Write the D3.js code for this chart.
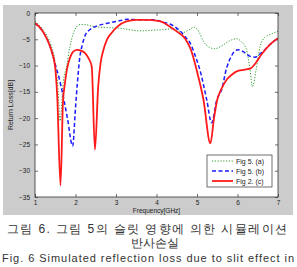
<!DOCTYPE html>
<html>
<head>
<meta charset="utf-8">
<script src="https://cdn.jsdelivr.net/npm/d3@7"></script>
<style>
  body { margin: 0; background: #fff; }
  text { font-family: "Liberation Sans", Arial, sans-serif; }
</style>
</head>
<body>
<svg id="chart" width="297" height="267"></svg>
<script>
// Fig 5. (a) - green dotted
let freqA = [1.0, 1.1, 1.2, 1.3, 1.4, 1.5, 1.56, 1.62, 1.7, 1.78, 1.86, 1.95, 2.03, 2.11, 2.23, 2.4, 2.6, 3.1, 3.59, 3.84, 4.1, 4.41, 4.66, 4.8, 4.93, 5.05, 5.16, 5.3, 5.44, 5.6, 5.8, 5.98, 6.1, 6.21, 6.31, 6.37, 6.46, 6.56, 6.68, 6.8, 7.0];
let lossA = [-1.6, -2.3, -3.2, -4.4, -6.2, -9.5, -13.5, -20.5, -13.0, -10.1, -6.5, -3.8, -2.6, -2.2, -2.2, -2.5, -2.7, -2.9, -3.4, -3.3, -3.2, -3.0, -3.7, -3.2, -2.7, -3.6, -5.4, -6.5, -6.8, -6.3, -5.3, -4.9, -5.5, -6.7, -10.8, -14.0, -10.8, -6.3, -4.6, -4.1, -3.5];

// Fig 5. (b) - blue dashed
let freqB = [1.0, 1.1, 1.2, 1.3, 1.4, 1.5, 1.6, 1.7, 1.8, 1.93, 2.0, 2.05, 2.11, 2.17, 2.23, 2.35, 2.52, 2.75, 3.02, 3.3, 3.6, 3.9, 4.15, 4.33, 4.55, 4.74, 4.83, 4.95, 5.07, 5.24, 5.36, 5.49, 5.61, 5.73, 5.85, 5.94, 6.02, 6.15, 6.3, 6.43, 6.6, 6.8, 7.0];
let lossB = [-2.0, -2.6, -3.6, -5.0, -7.0, -9.8, -12.5, -16.0, -20.0, -25.3, -18.0, -13.0, -8.2, -6.0, -4.4, -3.2, -2.5, -2.0, -1.6, -1.2, -1.3, -1.3, -1.7, -2.1, -3.2, -4.8, -5.7, -8.0, -10.8, -16.5, -20.9, -16.5, -14.5, -10.5, -8.2, -7.2, -7.0, -7.4, -8.2, -8.4, -7.5, -6.0, -4.8];

// Fig 2. (c) - red solid
let freqC = [1.0, 1.1, 1.2, 1.3, 1.4, 1.5, 1.55, 1.63, 1.69, 1.74, 1.8, 1.86, 1.95, 2.04, 2.15, 2.23, 2.32, 2.4, 2.48, 2.56, 2.62, 2.69, 2.78, 2.89, 3.05, 3.26, 3.5, 3.8, 4.1, 4.33, 4.5, 4.7, 4.85, 4.99, 5.16, 5.33, 5.42, 5.5, 5.6, 5.75, 5.85, 5.98, 6.15, 6.31, 6.45, 6.6, 6.8, 7.0];
let lossC = [-1.9, -2.6, -3.6, -5.0, -7.0, -10.5, -16.0, -32.8, -17.0, -13.3, -10.3, -8.6, -7.3, -7.0, -7.2, -7.6, -8.6, -10.1, -26.0, -14.0, -9.5, -7.0, -5.0, -3.8, -2.5, -1.6, -1.3, -1.3, -1.6, -2.6, -3.5, -4.8, -7.0, -10.8, -16.5, -24.8, -20.0, -16.5, -14.5, -12.5, -11.8, -11.1, -10.8, -10.6, -9.5, -7.8, -6.0, -4.8];

let xTicks = [1, 2, 3, 4, 5, 6, 7];
let yTicks = [0, -5, -10, -15, -20, -25, -30, -35];

let seriesNames = ["Fig 5. (a)", "Fig 5. (b)", "Fig 2. (c)"];
let seriesColors = ["#2f9e2f", "#1a1aff", "#ff1a1a"];
let seriesDash = ["1.2,1.6", "4,2.5", null];
let seriesWidth = [1, 1.5, 1.8];

let captionKo1 = "그림 6. 그림 5의 슬릿 영향에 의한 시뮬레이션";
let captionKo2 = "반사손실";
let captionEn = "Fig. 6 Simulated reflection loss due to slit effect in";

let svg = d3.select("#chart");

let margin = { left: 35, right: 278, top: 13, bottom: 197 };

// matlab style grey figure background
svg.append("rect")
    .attr("x", 3).attr("y", 5)
    .attr("width", 290).attr("height", 210)
    .attr("fill", "#cccccc");

svg.append("rect")
    .attr("x", margin.left).attr("y", margin.top)
    .attr("width", margin.right - margin.left)
    .attr("height", margin.bottom - margin.top)
    .attr("fill", "#fff");

let x = d3.scaleLinear().domain([1, 7]).range([margin.left, margin.right]);
let y = d3.scaleLinear().domain([-35, 0]).range([margin.bottom, margin.top]);

// axes, ticks pointing inward
let axisStyle = function (g) {
    g.select(".domain").remove();
    g.selectAll(".tick line").attr("stroke", "#333").attr("stroke-width", 0.7);
    g.selectAll(".tick text").attr("font-size", 6.5).attr("fill", "#222");
};

svg.append("g")
    .attr("transform", "translate(0," + margin.bottom + ")")
    .call(d3.axisBottom(x).tickValues(xTicks).tickSize(-3).tickPadding(3).tickFormat(d3.format("d")))
    .call(axisStyle);

svg.append("g")
    .attr("transform", "translate(0," + margin.top + ")")
    .call(d3.axisTop(x).tickValues(xTicks).tickSize(-3).tickFormat(""))
    .call(axisStyle);

svg.append("g")
    .attr("transform", "translate(" + margin.left + ",0)")
    .call(d3.axisLeft(y).tickValues(yTicks).tickSize(-3).tickPadding(5).tickFormat(d3.format("d")))
    .call(axisStyle);

svg.append("g")
    .attr("transform", "translate(" + margin.right + ",0)")
    .call(d3.axisRight(y).tickValues(yTicks).tickSize(-3).tickFormat(""))
    .call(axisStyle);

let line = d3.line()
    .x(function (d) { return x(d[0]); })
    .y(function (d) { return y(d[1]); })
    .curve(d3.curveMonotoneX);

let allSeries = [
    d3.zip(freqA, lossA),
    d3.zip(freqB, lossB),
    d3.zip(freqC, lossC)
];

// clip so nothing leaves the plot box
svg.append("clipPath").attr("id", "plotClip")
    .append("rect")
    .attr("x", margin.left).attr("y", margin.top)
    .attr("width", margin.right - margin.left)
    .attr("height", margin.bottom - margin.top);

svg.append("g").attr("clip-path", "url(#plotClip)")
    .selectAll("path")
    .data(allSeries).enter()
    .append("path")
    .attr("fill", "none")
    .attr("stroke", function (d, i) { return seriesColors[i]; })
    .attr("stroke-width", function (d, i) { return seriesWidth[i]; })
    .attr("stroke-dasharray", function (d, i) { return seriesDash[i]; })
    .attr("d", line);

// plot box
svg.append("rect")
    .attr("x", margin.left).attr("y", margin.top)
    .attr("width", margin.right - margin.left)
    .attr("height", margin.bottom - margin.top)
    .attr("fill", "none")
    .attr("stroke", "#333")
    .attr("stroke-width", 0.8);

// legend
let legend = svg.append("g").attr("transform", "translate(207,155)");
legend.append("rect")
    .attr("width", 65).attr("height", 32)
    .attr("fill", "#fff")
    .attr("stroke", "#333")
    .attr("stroke-width", 0.7);

seriesNames.forEach(function (name, i) {
    let ly = 6 + i * 10;
    legend.append("line")
        .attr("x1", 5).attr("x2", 26)
        .attr("y1", ly).attr("y2", ly)
        .attr("stroke", seriesColors[i])
        .attr("stroke-width", seriesWidth[i])
        .attr("stroke-dasharray", seriesDash[i]);
    legend.append("text")
        .attr("x", 29).attr("y", ly + 2.5)
        .attr("font-size", 7)
        .attr("fill", "#222")
        .text(name);
});

// axis labels
svg.append("text")
    .attr("transform", "translate(13," + (margin.top + margin.bottom) / 2 + ") rotate(-90)")
    .attr("text-anchor", "middle")
    .attr("font-size", 7)
    .attr("fill", "#222")
    .text("Return Loss[dB]");

svg.append("text")
    .attr("x", (margin.left + margin.right) / 2)
    .attr("y", 213)
    .attr("text-anchor", "middle")
    .attr("font-size", 6.5)
    .attr("fill", "#222")
    .text("Frequency[GHz]");

// caption
svg.append("text")
    .attr("x", 7).attr("y", 233)
    .attr("font-family", "'Noto Sans CJK KR', sans-serif")
    .attr("font-size", 12)
    .attr("fill", "#333")
    .attr("textLength", 280)
    .attr("lengthAdjust", "spacing")
    .text(captionKo1);

svg.append("text")
    .attr("x", 155).attr("y", 247)
    .attr("text-anchor", "middle")
    .attr("font-family", "'Noto Sans CJK KR', sans-serif")
    .attr("font-size", 12)
    .attr("fill", "#333")
    .text(captionKo2);

svg.append("text")
    .attr("x", 2).attr("y", 262)
    .attr("font-size", 11)
    .attr("fill", "#333")
    .attr("textLength", 292)
    .attr("lengthAdjust", "spacing")
    .text(captionEn);
</script>
</body>
</html>
